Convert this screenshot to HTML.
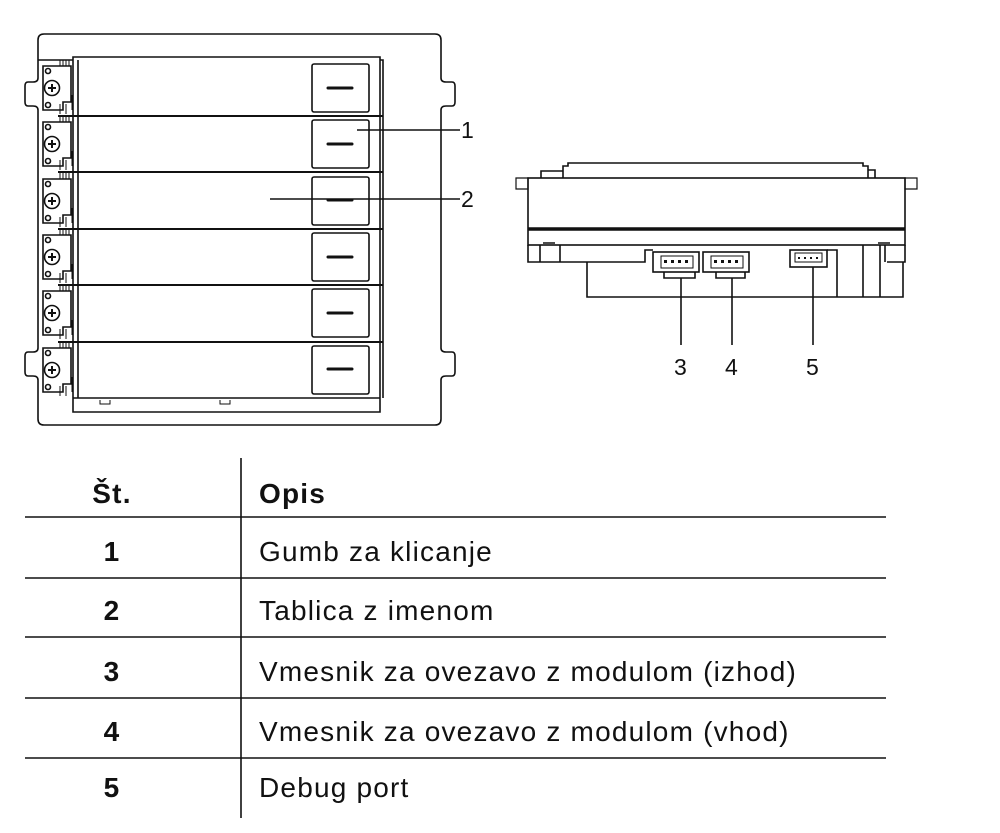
<!DOCTYPE html>
<html><head><meta charset="utf-8"><style>
body{margin:0;background:#fff;width:1000px;height:833px;overflow:hidden;font-family:"Liberation Sans",sans-serif}
svg{position:absolute;left:0;top:0}
</style></head><body>
<svg width="1000" height="833" viewBox="0 0 1000 833" fill="none" stroke="#111" stroke-width="1.6">
<path d="M44 34 H435 Q441 34 441 40 V78 Q441 82 446 82 H452 Q455 82 455 86 V102 Q455 106 452 106 H446 Q441 106 441 110 V348 Q441 352 446 352 H452 Q455 352 455 356 V372 Q455 376 452 376 H446 Q441 376 441 380 V419 Q441 425 435 425 H44 Q38 425 38 419 V380 Q38 376 33 376 H28 Q25 376 25 372 V356 Q25 352 28 352 H33 Q38 352 38 348 V110 Q38 106 33 106 H28 Q25 106 25 102 V86 Q25 82 28 82 H33 Q38 82 38 78 V40 Q38 34 44 34 Z"/>
<path d="M38 60 H73 M73 57 H380 V412 H73 Z M78 60 V398 M380 60 H383 V398 M73 398 H380"/>
<g>
<line x1="58" y1="116" x2="383" y2="116" stroke-width="2"/>
<line x1="58" y1="172" x2="383" y2="172" stroke-width="2"/>
<line x1="58" y1="229" x2="383" y2="229" stroke-width="2"/>
<line x1="58" y1="285" x2="383" y2="285" stroke-width="2"/>
<line x1="58" y1="342" x2="383" y2="342" stroke-width="2"/>
</g>
<g stroke-width="1.6">
<rect x="312" y="64" width="57" height="48" rx="2"/>
<rect x="312" y="120" width="57" height="48" rx="2"/>
<rect x="312" y="177" width="57" height="48" rx="2"/>
<rect x="312" y="233" width="57" height="48" rx="2"/>
<rect x="312" y="289" width="57" height="48" rx="2"/>
<rect x="312" y="346" width="57" height="48" rx="2"/>
</g>
<g stroke-width="3" stroke-linecap="round">
<line x1="328" y1="88" x2="352" y2="88"/><line x1="328" y1="144" x2="352" y2="144"/>
<line x1="328" y1="200" x2="352" y2="200"/><line x1="328" y1="257" x2="352" y2="257"/>
<line x1="328" y1="313" x2="352" y2="313"/><line x1="328" y1="369" x2="352" y2="369"/>
</g>
<g>
<g id="b"><path d="M43 66 H71 V102 H63 V110 H43 Z"/><circle cx="48" cy="71" r="2.5"/><circle cx="48" cy="105" r="2.5"/><circle cx="52" cy="88" r="7.5"/><path d="M48 88 H56 M52 84 V92" stroke-width="2"/><path d="M60 60 V66 M63 60 V66 M66 60 V66 M69 60 V66 M60 104 V114 M66 104 V114 M72 95 V110" stroke-width="1"/></g>
<use href="#b" y="56"/><use href="#b" y="113"/><use href="#b" y="169"/><use href="#b" y="225"/><use href="#b" y="282"/>
</g>
<path d="M100 400 V404 H110 V400 M220 400 V404 H230 V400" stroke-width="1"/>
<line x1="357" y1="130" x2="460" y2="130"/>
<line x1="270" y1="199" x2="460" y2="199"/>
<g fill="#111" stroke="none" font-size="23" font-family="Liberation Sans">
<text x="461" y="138">1</text><text x="461" y="207">2</text>
<text x="674" y="375">3</text><text x="725" y="375">4</text><text x="806" y="375">5</text>
</g>
<path d="M563 178 V166 H568 V163 H863 V166 H868 V178"/>
<path d="M541 178 V171 H563 M868 170 H875 V178"/>
<rect x="528" y="178" width="377" height="67"/>
<line x1="528" y1="229" x2="905" y2="229" stroke-width="3.5"/>
<path d="M516 178 H528 V189 H516 Z M905 178 H917 V189 H905 Z" stroke-width="1.2"/>
<path d="M528 245 V262 H587 M905 245 V262 H887 M540 245 V262 M560 245 V262 M863 245 V297 M880 245 V297 M885 245 V262 M543 243 H555 M878 243 H890"/>
<path d="M587 262 V297 H903 V262"/>
<path d="M587 262 H645 V250 H653"/>
<rect x="653" y="252" width="46" height="20"/><rect x="703" y="252" width="46" height="20"/>
<rect x="661" y="256" width="32" height="12" stroke-width="1"/><rect x="711" y="256" width="32" height="12" stroke-width="1"/>
<path d="M664 272 V278 H695 V272 M716 272 V278 H745 V272"/>
<rect x="790" y="250" width="37" height="17"/><rect x="795" y="253" width="27" height="9" stroke-width="1"/>
<path d="M827 250 H837 V297"/>
<g fill="#111" stroke="none"><rect x="664" y="260" width="3" height="3"/><rect x="671" y="260" width="3" height="3"/><rect x="678" y="260" width="3" height="3"/><rect x="685" y="260" width="3" height="3"/><rect x="714" y="260" width="3" height="3"/><rect x="721" y="260" width="3" height="3"/><rect x="728" y="260" width="3" height="3"/><rect x="735" y="260" width="3" height="3"/><rect x="798" y="257" width="2" height="2"/><rect x="804" y="257" width="2" height="2"/><rect x="810" y="257" width="2" height="2"/><rect x="816" y="257" width="2" height="2"/></g>
<line x1="681" y1="278" x2="681" y2="345"/><line x1="732" y1="278" x2="732" y2="345"/><line x1="813" y1="267" x2="813" y2="345"/>
<g stroke-width="1.6">
<line x1="241" y1="458" x2="241" y2="818"/>
<line x1="25" y1="517" x2="886" y2="517"/><line x1="25" y1="578" x2="886" y2="578"/>
<line x1="25" y1="637" x2="886" y2="637"/><line x1="25" y1="698" x2="886" y2="698"/>
<line x1="25" y1="758" x2="886" y2="758"/>
</g>
<g fill="#111" stroke="none" font-size="28" letter-spacing="1.2">
<g font-weight="bold" text-anchor="middle">
<text x="112" y="503">Št.</text><text x="112" y="561">1</text><text x="112" y="620">2</text>
<text x="112" y="681">3</text><text x="112" y="741">4</text><text x="112" y="797">5</text>
</g>
<text x="259" y="503" font-weight="bold">Opis</text>
<text x="259" y="561">Gumb za klicanje</text>
<text x="259" y="620">Tablica z imenom</text>
<text x="259" y="681">Vmesnik za ovezavo z modulom (izhod)</text>
<text x="259" y="741">Vmesnik za ovezavo z modulom (vhod)</text>
<text x="259" y="797">Debug port</text>
</g>
</svg>
</body></html>
